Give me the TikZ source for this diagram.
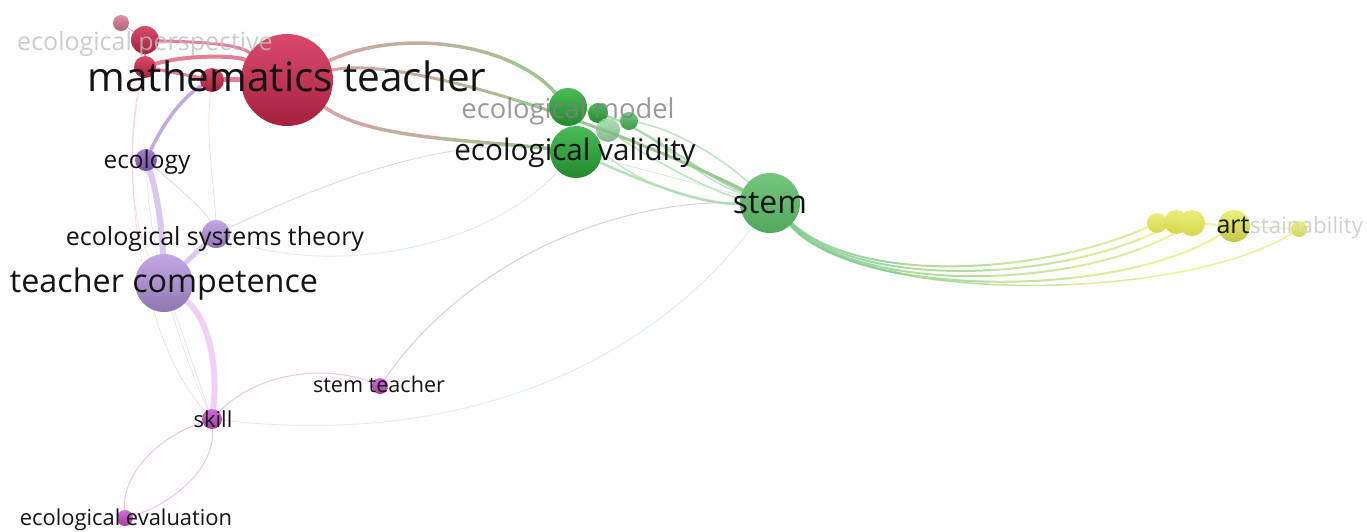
\documentclass[tikz,border=0pt]{standalone}
\usepackage{fontspec}
\setmainfont{Open Sans}
\usetikzlibrary{backgrounds}

\definecolor{kred}{HTML}{D42A50}
\definecolor{kpink}{HTML}{E07A94}
\definecolor{kviolet}{HTML}{9468CC}
\definecolor{klav}{HTML}{B898E2}
\definecolor{kmag}{HTML}{CC50D0}
\definecolor{kgreen}{HTML}{2AB03A}
\definecolor{kstem}{HTML}{5CBE68}
\definecolor{kyellow}{HTML}{E6EA50}
\definecolor{linkred}{HTML}{C98585}
\definecolor{linkgreen}{HTML}{74B86A}

\newcommand{\kwsize}[1]{\fontsize{#1}{#1}\selectfont}

\tikzset{
  ball/.style 2 args={circle, inner sep=0pt, minimum size=#1,
    top color=#2!85!white, bottom color=#2!78!black},
  yball/.style={circle, inner sep=0pt, minimum size=#1,
    top color=kyellow!75!white, bottom color=kyellow!92!black},
  lbl/.style={anchor=base, inner sep=0pt, text=black!92},
  link/.style={line cap=round, draw opacity=0.75},
}

\begin{document}
\begin{tikzpicture}[x=1pt, y=-1pt]
    \useasboundingbox (0,0) rectangle (1367,532);

    % Red cluster
    \node[ball={16pt}{kpink}] (rA) at (121,23) {};
    \node[ball={28pt}{kred}] (rB) at (145,40) {};
    \node[ball={22pt}{kred}] (rC) at (145,67) {};
    \node[ball={24pt}{kred}] (rD) at (212,80) {};
    \node[ball={92pt}{kred}] (mt) at (287,80) {};

    % Purple cluster
    \node[ball={22pt}{kviolet}] (eco) at (146,160) {};
    \node[ball={28pt}{klav}] (est) at (216,234) {};
    \node[ball={58pt}{klav}] (tc) at (164,283) {};
    \node[ball={20pt}{kmag}] (skl) at (212,419) {};
    \node[ball={16pt}{kmag}] (stt) at (380,386) {};
    \node[ball={16pt}{kmag}] (eev) at (125,518) {};

    % Green cluster
    \node[ball={38pt}{kgreen}] (em) at (568,107) {};
    \node[ball={20pt}{kgreen}] (gA) at (598,113) {};
    \node[ball={18pt}{kgreen!80!white}] (gC) at (629,121) {};
    \node[ball={24pt}{kgreen!55!white}, opacity=0.8] (gB) at (608,130) {};
    \node[ball={52pt}{kgreen}] (ev) at (576,152) {};
    \node[ball={60pt}{kstem}, bottom color=kstem!88!black] (stm) at (770,203) {};

    % Yellow cluster
    \node[yball=20pt] (yA) at (1157,223) {};
    \node[yball=24pt] (yB) at (1176,222) {};
    \node[yball=26pt] (yC) at (1192,223) {};
    \node[yball=32pt, bottom color=kyellow!85!black] (art) at (1234,226) {};
    \node[yball=16pt] (sus) at (1299,229) {};

    \begin{scope}[on background layer]
    \fill[white] (0,0) rectangle (1367,532);

    % Thin links on the left
    \draw[link, draw=kpink!45, line width=0.6pt] (rC) .. controls (128,120) and (128,220) .. (tc);
    \draw[link, draw=kpink!45, line width=0.6pt] (rC) .. controls (118,170) and (140,340) .. (skl);
    \draw[link, draw=kpink!45, line width=0.6pt] (rD) .. controls (205,140) and (215,190) .. (est);
    \draw[link, draw=klav!55, line width=0.8pt] (eco) .. controls (175,185) and (205,210) .. (est);
    \draw[link, draw=klav!45, line width=0.6pt] (eco) .. controls (150,260) and (185,360) .. (skl);
    \draw[link, draw=klav!45, line width=0.6pt] (tc) .. controls (185,340) and (198,380) .. (skl);

    % Thick links on the left
    \draw[link, draw=kviolet!75!white, line width=3.5pt] (eco) .. controls (165,120) and (185,95) .. (rD);
    \draw[link, draw=klav!70!white, line width=6pt] (eco) .. controls (158,195) and (162,230) .. (tc);
    \draw[link, draw=klav!70!white, line width=5pt] (est) -- (tc);
    \draw[link, draw=kmag!35!white, line width=6pt] (tc) .. controls (210,320) and (218,370) .. (skl);
    \draw[link, draw=kred!80!white, line width=5pt] (rD) -- (mt);
    \draw[link, draw=kred!80!white, line width=4pt] (rC) .. controls (185,55) and (235,55) .. (mt);
    \draw[link, draw=kred!80!white, line width=3pt] (rB) .. controls (185,42) and (235,42) .. (mt);
    \draw[link, draw=kred!80!white, line width=3pt] (rC) -- (rD);
    \draw[link, draw=kred!70!white, line width=1.5pt] (rB) -- (rC);
    \draw[link, draw=kpink!70!white, line width=1pt] (rA) -- (rB);

    % Magenta links
    \draw[link, draw=kmag!45, line width=1pt] (skl) .. controls (260,370) and (330,365) .. (stt);
    \draw[link, draw=kmag!45, line width=1pt] (skl) .. controls (150,440) and (122,480) .. (eev);
    \draw[link, draw=kmag!45, line width=1pt] (skl) .. controls (215,470) and (170,505) .. (eev);
    \draw[link, draw=kmag!40!gray!45, line width=1pt] (stt) .. controls (460,270) and (600,200) .. (stm);
    \draw[link, draw=kgreen!25, line width=0.8pt] (skl) .. controls (480,450) and (660,350) .. (stm);
    \draw[link, draw=klav!35!black!25, line width=0.8pt] (est) .. controls (330,180) and (450,135) .. (ev);
    \draw[link, draw=kgreen!25, line width=0.8pt] (est) .. controls (320,275) and (480,255) .. (ev);

    % Links from mathematics teacher, red fading to green
    \foreach \p/\xa/\xb in {100/250/370, 70/370/440, 40/440/510, 10/510/800} {
      \begin{scope}
        \clip (\xa,0) rectangle (\xb,300);
        \draw[link, draw=linkred!\p!linkgreen, line width=3.5pt] (mt) .. controls (400,28) and (510,42) .. (em);
        \draw[link, draw=linkred!\p!linkgreen, line width=3pt] (mt) .. controls (400,55) and (600,120) .. (stm);
        \draw[link, draw=linkred!\p!linkgreen, line width=3.5pt] (mt) .. controls (370,140) and (480,140) .. (ev);
      \end{scope}
    }

    % Green links to stem
    \draw[link, draw=kstem!70!white, line width=2pt] (em) .. controls (640,120) and (700,175) .. (stm);
    \draw[link, draw=kstem!55!white, line width=1.5pt] (gC) .. controls (680,130) and (730,165) .. (stm);
    \draw[link, draw=kstem!55!white, line width=1.5pt] (gA) .. controls (650,130) and (700,180) .. (stm);
    \draw[link, draw=kstem!60!white, line width=2.5pt] (ev) .. controls (640,180) and (700,205) .. (stm);
    \draw[link, draw=kstem!55!white, line width=1.5pt] (gB) .. controls (660,165) and (720,195) .. (stm);
    \draw[link, draw=kstem!50!white, line width=1.5pt] (em) .. controls (600,165) and (680,205) .. (stm);
    \draw[link, draw=kstem!40!white, line width=0.7pt] (ev) -- (stm);

    % Links from stem to the yellow cluster, green fading to yellow
    \foreach \p/\xa/\xb in {100/740/900, 75/900/990, 50/990/1070, 25/1070/1140, 0/1140/1320} {
      \begin{scope}
        \clip (\xa,150) rectangle (\xb,320);
        \draw[link, draw=kstem!\p!kyellow!80!white, line width=2pt] (stm) .. controls (860,285) and (1040,275) .. (yA);
        \draw[link, draw=kstem!\p!kyellow!80!white, line width=2pt] (stm) .. controls (860,290) and (1060,282) .. (yB);
        \draw[link, draw=kstem!\p!kyellow!80!white, line width=2pt] (stm) .. controls (860,295) and (1080,290) .. (yC);
        \draw[link, draw=kstem!\p!kyellow!80!white, line width=2pt] (stm) .. controls (860,300) and (1120,298) .. (art);
        \draw[link, draw=kstem!\p!kyellow!80!white, line width=1.5pt] (stm) .. controls (860,305) and (1180,303) .. (sus);
      \end{scope}
    }
    \draw[link, draw=kyellow!70!white, line width=2pt] (yC) -- (art);
    \draw[link, draw=kyellow!70!white, line width=1pt] (art) -- (sus);
    \end{scope}

    % Labels
    \node[lbl, text=black!25, text opacity=0.8, font=\kwsize{25}] (rB-l) at (145,51) {ecological perspective};
    \node[lbl, font=\kwsize{40.5}] (mt-l) at (287,92) {mathematics teacher};
    \node[lbl, font=\kwsize{24.4}] (eco-l) at (147,168) {ecology};
    \node[lbl, font=\kwsize{25}] (est-l) at (215,245) {ecological systems theory};
    \node[lbl, font=\kwsize{32.3}] (tc-l) at (164,292) {teacher competence};
    \node[lbl, font=\kwsize{21.6}] (stt-l) at (379,392) {stem teacher};
    \node[lbl, font=\kwsize{22}] (skl-l) at (213,427) {skill};
    \node[lbl, font=\kwsize{21.9}] (eev-l) at (126,525) {ecological evaluation};
    \node[lbl, text=black!50, text opacity=0.8, font=\kwsize{27.3}] (em-l) at (568,118) {ecological model};
    \node[lbl, font=\kwsize{29.7}] (ev-l) at (575,160) {ecological validity};
    \node[lbl, font=\kwsize{31.9}] (stm-l) at (770,213) {stem};
    \node[lbl, font=\kwsize{25}] (art-l) at (1233,233) {art};
    \node[lbl, anchor=base west, text=black!18, font=\kwsize{22.4}] (sus-l) at (1250,233) {stainability};

\end{tikzpicture}
\end{document}
